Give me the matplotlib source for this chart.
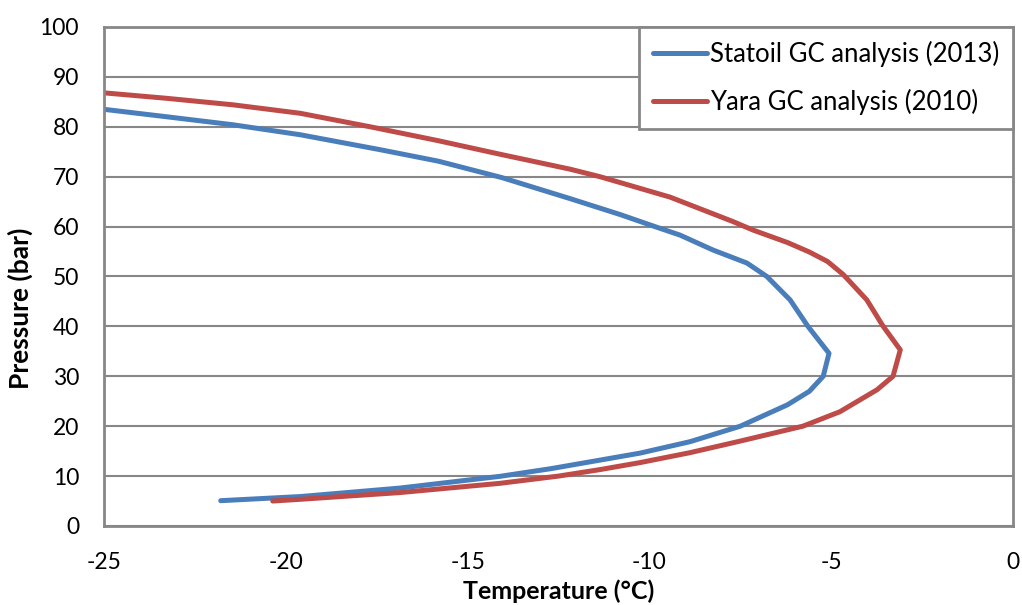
import matplotlib.pyplot as plt

# phase envelope points: temperature (C), pressure (bar)
statoil_T = [-25.0, -23.27, -21.45, -19.6, -17.4, -15.8, -14.05, -12.18, -10.8, -9.85, -9.16,
             -8.25, -7.32, -6.77, -6.13, -5.64, -5.06, -5.22, -5.6, -6.2, -7.5, -8.88,
             -10.26, -11.36, -12.7, -14.11, -16.86, -19.6, -21.79]
statoil_P = [83.5, 82.0, 80.4, 78.4, 75.4, 73.1, 69.8, 65.6, 62.4, 60.0, 58.3,
             55.3, 52.7, 50.0, 45.3, 40.0, 34.6, 30.0, 27.0, 24.3, 20.0, 16.9,
             14.6, 13.2, 11.5, 9.95, 7.6, 5.9, 5.07]

yara_T = [-25.0, -23.27, -21.45, -19.6, -17.68, -15.8, -14.11, -12.18, -11.36, -9.43, -7.7,
          -7.15, -6.2, -5.6, -5.1, -4.67, -4.02, -3.57, -3.1, -3.3, -3.74, -4.76, -5.78,
          -7.51, -8.88, -10.26, -11.36, -12.5, -14.11, -16.86, -19.6, -20.36]
yara_P = [86.8, 85.7, 84.4, 82.7, 80.0, 77.2, 74.5, 71.5, 70.0, 65.9, 61.0,
          59.3, 56.8, 54.9, 53.0, 50.4, 45.3, 40.0, 35.3, 30.0, 27.3, 22.9, 20.0,
          17.0, 14.7, 12.7, 11.3, 10.0, 8.55, 6.7, 5.35, 5.0]

x_ticks = [-25, -20, -15, -10, -5, 0]
y_ticks = [0, 10, 20, 30, 40, 50, 60, 70, 80, 90, 100]

plt.rcParams['font.family'] = ['Lato', 'DejaVu Sans']
plt.rcParams['axes.unicode_minus'] = False
grey = '#878787'

fig = plt.figure(figsize=(10.22, 6.05), dpi=100)
ax = fig.add_axes([0.1018, 0.1306, 0.8894, 0.8248])

ax.plot(statoil_T, statoil_P, color='#4A7EBB', lw=3.6, solid_capstyle='round',
        solid_joinstyle='round', label='Statoil GC analysis (2013)')
ax.plot(yara_T, yara_P, color='#BE4B48', lw=3.6, solid_capstyle='round',
        solid_joinstyle='round', label='Yara GC analysis (2010)')

ax.set_xlim(-25, 0)
ax.set_ylim(0, 100)
ax.set_xticks(x_ticks)
ax.set_yticks(y_ticks)
ax.tick_params(length=0, labelsize=16.5)
ax.tick_params(axis='x', pad=19)
ax.tick_params(axis='y', pad=18)
ax.grid(axis='y', color=grey, lw=1.5)
ax.set_axisbelow(True)
for s in ax.spines.values():
    s.set_color(grey)
    s.set_linewidth(2)

ax.set_xlabel('Temperature (°C)', fontsize=18, fontweight='bold', labelpad=4)
ax.set_ylabel('Pressure (bar)', fontsize=19, fontweight='bold')
ax.yaxis.set_label_coords(-0.078, 0.437)

leg = ax.legend(loc='upper right', fontsize=18.5, frameon=True, fancybox=False,
                borderaxespad=0, handlelength=2.1, handletextpad=0.1,
                labelspacing=0.85, borderpad=0.55)
leg.get_frame().set_edgecolor(grey)
leg.get_frame().set_linewidth(2)
leg.get_frame().set_alpha(1)

fig.savefig('out.png', dpi=100)
